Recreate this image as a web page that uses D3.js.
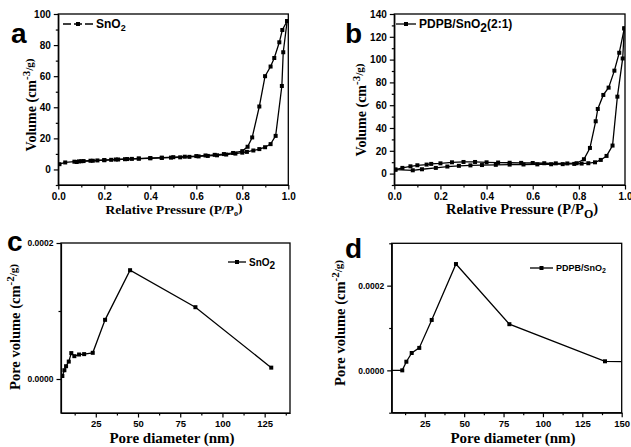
<!DOCTYPE html>
<html>
<head>
<meta charset="utf-8">
<script src="https://cdn.jsdelivr.net/npm/d3@7/dist/d3.min.js"></script>
<style>
  body { margin: 0; background: #fff; }
  svg { display: block; }
  .tick text { font-family: "Liberation Sans", Arial, sans-serif; font-weight: bold; fill: #000; }
  .domain, .tick line { stroke: #000; stroke-width: 1.2; }
  .title { font-family: "Liberation Serif", "Times New Roman", serif; font-weight: bold; }
  .panel-label { font-family: "Liberation Sans", Arial, sans-serif; font-weight: bold; font-size: 28px; }
  .legend { font-family: "Liberation Sans", Arial, sans-serif; font-weight: bold; }
</style>
</head>
<body>
<div id="chart"></div>
<script>
"use strict";

// (a) SnO2 isotherm, relative pressure vs volume
const snoAdsP = [0.005, 0.03, 0.07, 0.09, 0.11, 0.14, 0.17, 0.20, 0.23, 0.26, 0.29, 0.32, 0.35, 0.40, 0.45, 0.49, 0.53, 0.57, 0.61, 0.65, 0.69, 0.73, 0.77, 0.80, 0.82, 0.848, 0.874, 0.899, 0.923, 0.945, 0.972, 0.978, 0.995];
const snoAdsV = [3.4, 4.5, 5.0, 5.2, 5.4, 5.6, 5.8, 6.0, 6.2, 6.4, 6.6, 6.8, 7.0, 7.2, 7.4, 7.6, 7.8, 8.1, 8.4, 8.7, 9.1, 9.6, 10.2, 10.8, 11.3, 12.2, 13.1, 14.3, 16.3, 21.6, 53.7, 75.4, 95.5];
const snoDesP = [0.995, 0.974, 0.961, 0.939, 0.923, 0.899, 0.874, 0.843, 0.823, 0.80, 0.76, 0.72, 0.68, 0.64, 0.60, 0.55, 0.50, 0.45, 0.40, 0.35, 0.30, 0.25, 0.20, 0.15, 0.10, 0.08];
const snoDesV = [95.5, 89.7, 81.8, 71.7, 66.2, 60.0, 40.5, 20.6, 14.6, 11.8, 10.6, 9.9, 9.4, 9.0, 8.6, 8.2, 7.9, 7.6, 7.3, 7.0, 6.7, 6.4, 6.0, 5.6, 5.3, 4.8];

// (b) PDPB/SnO2(2:1) isotherm
const pdpbAdsP = [0.005, 0.08, 0.12, 0.18, 0.23, 0.28, 0.33, 0.38, 0.44, 0.50, 0.56, 0.62, 0.68, 0.73, 0.78, 0.812, 0.841, 0.87, 0.895, 0.92, 0.946, 0.967, 0.99, 0.997];
const pdpbAdsV = [3.5, 2.9, 3.8, 5.0, 6.2, 6.8, 7.2, 7.5, 7.7, 7.9, 8.0, 8.1, 8.2, 8.3, 8.5, 8.8, 9.1, 9.9, 12.0, 15.5, 24.6, 67.5, 101, 127.4];
const pdpbDesP = [0.997, 0.975, 0.954, 0.929, 0.906, 0.882, 0.873, 0.848, 0.822, 0.79, 0.75, 0.70, 0.65, 0.60, 0.55, 0.50, 0.45, 0.40, 0.35, 0.30, 0.25, 0.20, 0.16, 0.14, 0.10, 0.07, 0.035, 0.005];
const pdpbDesV = [127.4, 106, 90.3, 75.4, 69.0, 56.7, 45.9, 22.5, 12.6, 9.1, 8.9, 9.0, 9.1, 9.3, 9.4, 9.5, 9.7, 9.9, 10.2, 10.2, 9.9, 9.0, 8.5, 7.9, 7.3, 6.4, 5.0, 3.5];

// (c) SnO2 pore size distribution
const snoPoreD = [5.2, 6.4, 7.4, 9.0, 10.5, 12.3, 15.1, 18.1, 23.2, 30.5, 45.3, 84.0, 128.9];
const snoPoreV = [0.0000044, 0.0000129, 0.0000188, 0.0000256, 0.0000381, 0.0000336, 0.000036, 0.0000366, 0.0000385, 0.000087, 0.00016, 0.0001056, 0.0000167];

// (d) PDPB/SnO2 pore size distribution (end points run past the frame)
const pdpbPoreD = [1, 10.7, 13.3, 16.7, 21.5, 29.4, 44.8, 78.7, 139.4, 160];
const pdpbPoreV = [0, 0, 0.0000204, 0.000041, 0.000053, 0.000119, 0.000251, 0.000109, 0.0000214, 0.000020];

const width = 631, height = 447;

const svg = d3.select("#chart").append("svg")
  .attr("width", width)
  .attr("height", height);

const defs = svg.append("defs");

function zip(xs, ys) { return xs.map(function(x, i) { return [x, ys[i]]; }); }

/* add a text with an optional subscript part */
function subText(sel, before, sub, after, subSize) {
  sel.append("tspan").text(before);
  if (sub) {
    sel.append("tspan").attr("dy", "0.3em").style("font-size", subSize).text(sub);
    sel.append("tspan").attr("dy", "-0.3em").text(after || "");
  }
}

function drawPanel(p) {
  const g = svg.append("g");

  const x = d3.scaleLinear().domain(p.xDomain).range([p.left, p.right]);
  const y = d3.scaleLinear().domain(p.yDomain).range([p.bottom, p.top]);

  /* minor ticks first so the labelled ones sit on top */
  g.append("g")
    .attr("transform", "translate(0," + p.bottom + ")")
    .call(d3.axisBottom(x).tickValues(p.xMinor).tickSize(2.5).tickFormat(""))
    .select(".domain").remove();
  g.append("g")
    .attr("transform", "translate(" + p.left + ",0)")
    .call(d3.axisLeft(y).tickValues(p.yMinor).tickSize(2.5).tickFormat(""))
    .select(".domain").remove();

  g.append("g")
    .attr("transform", "translate(0," + p.bottom + ")")
    .call(d3.axisBottom(x).tickValues(p.xTicks).tickSize(4.5).tickSizeOuter(0).tickPadding(3).tickFormat(p.xFormat))
    .selectAll(".tick text").style("font-size", p.xTickSize);
  g.append("g")
    .attr("transform", "translate(" + p.left + ",0)")
    .call(d3.axisLeft(y).tickValues(p.yTicks).tickSize(4.5).tickSizeOuter(0).tickPadding(3).tickFormat(p.yFormat))
    .selectAll(".tick text").style("font-size", p.yTickSize);

  /* box frame */
  g.append("rect")
    .attr("x", p.left).attr("y", p.top)
    .attr("width", p.right - p.left).attr("height", p.bottom - p.top)
    .attr("fill", "none").attr("stroke", "#000").attr("stroke-width", 1.3);

  defs.append("clipPath").attr("id", "clip-" + p.id)
    .append("rect")
    .attr("x", p.left).attr("y", p.top)
    .attr("width", p.right - p.left).attr("height", p.bottom - p.top);

  const plot = g.append("g").attr("clip-path", "url(#clip-" + p.id + ")");
  const line = d3.line().x(function(d) { return x(d[0]); }).y(function(d) { return y(d[1]); });

  p.series.forEach(function(s) {
    plot.append("path")
      .datum(s)
      .attr("d", line)
      .attr("fill", "none")
      .attr("stroke", "#000")
      .attr("stroke-width", 1.3);
    plot.selectAll(null)
      .data(s)
      .enter().append("rect")
      .attr("x", function(d) { return x(d[0]) - 2; })
      .attr("y", function(d) { return y(d[1]) - 2; })
      .attr("width", 4)
      .attr("height", 4)
      .attr("fill", "#000");
  });

  /* axis titles */
  const xt = g.append("text").attr("class", "title")
    .attr("x", p.xTitlePos[0]).attr("y", p.xTitlePos[1])
    .attr("text-anchor", "middle")
    .style("font-size", p.xTitleSize);
  subText(xt, p.xTitle[0], p.xTitle[1], p.xTitle[2], p.xTitle[3]);

  const yt = g.append("text").attr("class", "title")
    .attr("transform", "translate(" + p.yTitlePos[0] + "," + p.yTitlePos[1] + ") rotate(-90)")
    .attr("text-anchor", "middle")
    .attr("dominant-baseline", "central")
    .style("font-size", p.yTitleSize);
  yt.append("tspan").text(p.yTitle[0]);
  yt.append("tspan").attr("dy", "-0.45em").style("font-size", "11px").text(p.yTitle[1]);
  yt.append("tspan").attr("dy", "0.3em").style("font-size", "11px").text(p.yTitle[2]);

  /* panel letter */
  g.append("text").attr("class", "panel-label")
    .attr("x", p.labelPos[0]).attr("y", p.labelPos[1])
    .text(p.label);

  /* legend */
  const lg = p.legend;
  g.append("line")
    .attr("x1", lg.x1).attr("x2", lg.x2).attr("y1", lg.y).attr("y2", lg.y)
    .attr("stroke", "#000").attr("stroke-width", 1.3)
    .attr("stroke-dasharray", lg.dash || null);
  g.append("rect")
    .attr("x", (lg.x1 + lg.x2) / 2 - 2).attr("y", lg.y - 2)
    .attr("width", 4).attr("height", 4).attr("fill", "#000");
  const lt = g.append("text").attr("class", "legend")
    .attr("x", lg.x2 + 3).attr("y", lg.y + lg.size * 0.36)
    .style("font-size", lg.size + "px");
  subText(lt, lg.text[0], lg.text[1], lg.text[2], lg.subSize);
}

drawPanel({
  id: "a", left: 58.3, right: 288.3, top: 14, bottom: 185,
  xDomain: [0, 1], yDomain: [-10, 100],
  xTicks: [0, 0.2, 0.4, 0.6, 0.8, 1.0], xMinor: [0.1, 0.3, 0.5, 0.7, 0.9],
  yTicks: [0, 20, 40, 60, 80, 100], yMinor: [-10, 10, 30, 50, 70, 90],
  xFormat: d3.format(".1f"), yFormat: d3.format("d"),
  xTickSize: "10px", yTickSize: "10px",
  series: [zip(snoAdsP, snoAdsV), zip(snoDesP, snoDesV)],
  xTitle: ["Relative Pressure (P/P", "o", ")", "8px"], xTitlePos: [174, 214], xTitleSize: "13.5px",
  yTitle: ["Volume  (cm", "-3", "/g)"], yTitlePos: [31, 105], yTitleSize: "14px",
  label: "a", labelPos: [11, 43],
  legend: { x1: 63, x2: 93, y: 24, size: 12, subSize: "9px", text: ["SnO", "2", ""], dash: "8,3" }
});

drawPanel({
  id: "b", left: 394.3, right: 625, top: 14, bottom: 185,
  xDomain: [0, 1], yDomain: [-10, 140],
  xTicks: [0, 0.2, 0.4, 0.6, 0.8, 1.0], xMinor: [0.1, 0.3, 0.5, 0.7, 0.9],
  yTicks: [0, 20, 40, 60, 80, 100, 120, 140], yMinor: [-10, 10, 30, 50, 70, 90, 110, 130],
  xFormat: d3.format(".1f"), yFormat: d3.format("d"),
  xTickSize: "10px", yTickSize: "10px",
  series: [zip(pdpbAdsP, pdpbAdsV), zip(pdpbDesP, pdpbDesV)],
  xTitle: ["Relative Pressure (P/P", "O", ")", "12px"], xTitlePos: [522, 214], xTitleSize: "14.5px",
  yTitle: ["Volume  (cm", "-3", "/g)"], yTitlePos: [361, 110], yTitleSize: "14px",
  label: "b", labelPos: [345, 43],
  legend: { x1: 396, x2: 416, y: 24, size: 12, subSize: "12px", text: ["PDPB/SnO", "2", "(2:1)"] }
});

drawPanel({
  id: "c", left: 61, right: 290, top: 243, bottom: 413,
  xDomain: [4.4, 140], yDomain: [-0.00005, 0.0002],
  xTicks: [25, 50, 75, 100, 125], xMinor: [12.5, 37.5, 62.5, 87.5, 112.5, 137.5],
  yTicks: [0, 0.0002], yMinor: [0.0001],
  xFormat: d3.format("d"), yFormat: d3.format(".4f"),
  xTickSize: "9.5px", yTickSize: "8.5px",
  series: [zip(snoPoreD, snoPoreV)],
  xTitle: ["Pore diameter (nm)"], xTitlePos: [172, 443], xTitleSize: "15px",
  yTitle: ["Pore volume (cm", "-2", "/g)"], yTitlePos: [15, 327], yTitleSize: "14.5px",
  label: "c", labelPos: [7, 251],
  legend: { x1: 228, x2: 246, y: 262, size: 10, subSize: "10px", text: ["SnO", "2", ""] }
});

drawPanel({
  id: "d", left: 391.7, right: 621.7, top: 243.3, bottom: 412.7,
  xDomain: [4, 150], yDomain: [-0.0001, 0.0003],
  xTicks: [25, 50, 75, 100, 125, 150], xMinor: [12.5, 37.5, 62.5, 87.5, 112.5, 137.5],
  yTicks: [0, 0.0002], yMinor: [-0.0001, 0.0001, 0.0003],
  xFormat: d3.format("d"), yFormat: d3.format(".4f"),
  xTickSize: "9.5px", yTickSize: "8.5px",
  series: [zip(pdpbPoreD, pdpbPoreV)],
  xTitle: ["Pore diameter (nm)"], xTitlePos: [513, 443], xTitleSize: "15px",
  yTitle: ["Pore volume (cm", "-2", "/g)"], yTitlePos: [340, 323], yTitleSize: "14.5px",
  label: "d", labelPos: [345, 258],
  legend: { x1: 530, x2: 553, y: 268, size: 9, subSize: "7px", text: ["PDPB/SnO", "2", ""] }
});
</script>
</body>
</html>
